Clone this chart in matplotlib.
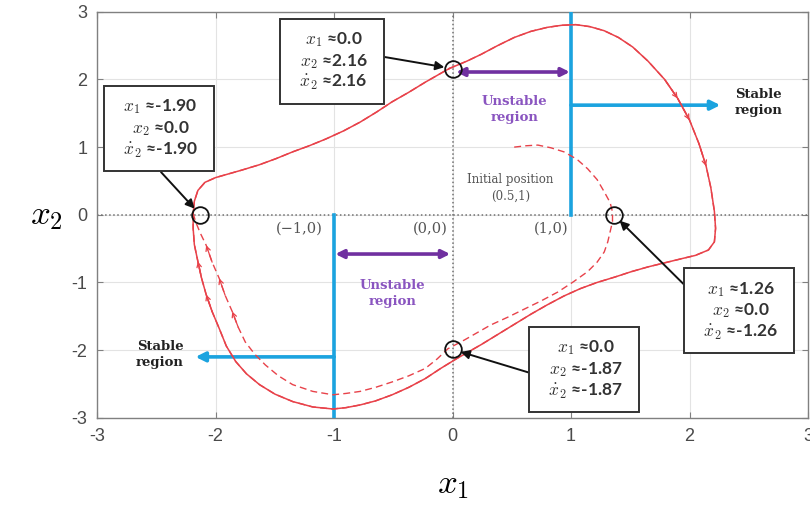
import numpy as np
import matplotlib.pyplot as plt

plt.rcParams['mathtext.fontset'] = 'cm'
plt.rcParams['axes.unicode_minus'] = False

# limit cycle (solid), traced clockwise from the top crossing of x1 = 0
cycle_x1 = [-0.03, 0.12, 0.24, 0.38, 0.52, 0.66, 0.80, 0.92, 1.04, 1.16,
            1.28, 1.40, 1.52, 1.65, 1.79, 1.90, 2.00, 2.08, 2.14, 2.18,
            2.21, 2.22, 2.21, 2.16, 2.05, 1.93, 1.79, 1.65, 1.51, 1.37,
            1.22, 1.08, 0.94, 0.80, 0.66, 0.52, 0.38, 0.24, 0.13, 0.04,
            -0.10, -0.23, -0.37, -0.51, -0.65, -0.78, -0.90, -1.01, -1.18, -1.35,
            -1.50, -1.63, -1.74, -1.83, -1.91, -1.97, -2.03, -2.08, -2.12, -2.15,
            -2.18, -2.19, -2.19, -2.18, -2.15, -2.09, -2.00, -1.92, -1.78, -1.63,
            -1.49, -1.35, -1.21, -1.07, -0.92, -0.78, -0.64, -0.51, -0.37, -0.23,
            -0.03]
cycle_x2 = [2.16, 2.27, 2.37, 2.50, 2.62, 2.71, 2.77, 2.80, 2.81, 2.78,
            2.72, 2.62, 2.48, 2.27, 2.00, 1.72, 1.40, 1.05, 0.72, 0.40,
            0.05, -0.20, -0.40, -0.52, -0.60, -0.65, -0.71, -0.77, -0.84, -0.92,
            -1.00, -1.09, -1.20, -1.33, -1.47, -1.62, -1.77, -1.92, -2.03, -2.12,
            -2.27, -2.42, -2.55, -2.66, -2.75, -2.81, -2.85, -2.87, -2.84, -2.76,
            -2.65, -2.51, -2.35, -2.17, -1.94, -1.68, -1.43, -1.18, -0.93, -0.69,
            -0.44, -0.20, 0.02, 0.20, 0.36, 0.48, 0.55, 0.59, 0.66, 0.74,
            0.83, 0.93, 1.02, 1.12, 1.24, 1.37, 1.52, 1.67, 1.81, 1.96,
            2.16]

# first lap of the trajectory from the initial position (0.5, 1)
traj_x1 = [0.52, 0.62, 0.72, 0.83, 0.94, 1.05, 1.14, 1.22, 1.28, 1.33,
           1.35, 1.35, 1.33, 1.31, 1.28, 1.22, 1.14, 1.02, 0.89, 0.75,
           0.61, 0.47, 0.32, 0.21, 0.10, -0.04, -0.13, -0.23, -0.37, -0.51,
           -0.65, -0.78, -0.90, -1.01, -1.18, -1.35, -1.47, -1.58, -1.67, -1.75,
           -1.81, -1.86, -1.92, -1.97, -2.03, -2.08, -2.13, -2.17]
traj_x2 = [1.00, 1.02, 1.03, 0.99, 0.93, 0.82, 0.68, 0.52, 0.34, 0.18,
           0.04, -0.10, -0.25, -0.40, -0.55, -0.70, -0.84, -0.99, -1.14, -1.27,
           -1.39, -1.51, -1.63, -1.74, -1.85, -1.98, -2.13, -2.27, -2.38, -2.47,
           -2.55, -2.61, -2.64, -2.66, -2.61, -2.51, -2.38, -2.22, -2.06, -1.88,
           -1.66, -1.43, -1.19, -0.94, -0.70, -0.45, -0.27, -0.10]

# marked crossing points and their readouts
mark_x1 = [0.0, -2.13, 1.36, 0.0]
mark_x2 = [2.16, 0.0, 0.0, -1.99]
read_x1 = ['0.0', '-1.90', '1.26', '0.0']
read_x2 = ['2.16', '0.0', '0.0', '-1.87']
read_dx2 = ['2.16', '-1.90', '-1.26', '-1.87']

red = '#e8424a'
blue = '#1ba3df'
purple = '#7030a0'
gray_txt = '#555555'

fig = plt.figure(figsize=(8.1, 5.12), dpi=100)
ax = fig.add_axes([0.12, 0.184, 0.8775, 0.793])

ax.set_xlim(-3, 3)
ax.set_ylim(-3, 3)
ax.set_xticks(np.arange(-3, 4))
ax.set_yticks(np.arange(-3, 4))
ax.grid(True, color='#e3e3e3', lw=0.8)
ax.set_axisbelow(True)
ax.tick_params(direction='in', length=4, width=0.8, color='#808080',
               top=True, right=True, labelsize=13, labelcolor='#4a4a4a', pad=7)
for lab in ax.get_xticklabels() + ax.get_yticklabels():
    lab.set_family('Liberation Sans')
for sp in ax.spines.values():
    sp.set_color('#808080')
    sp.set_linewidth(1.0)

ax.axhline(0, color='#707070', ls=':', lw=1.1, zorder=1)
ax.axvline(0, color='#707070', ls=':', lw=1.1, zorder=1)

# stability boundaries at x1 = -1 and x1 = 1
ax.plot([1, 1], [0, 3], color=blue, lw=2.6, zorder=3)
ax.plot([-1, -1], [0, -3], color=blue, lw=2.6, zorder=3)
ax.annotate('', xy=(2.26, 1.62), xytext=(1.0, 1.62),
            arrowprops=dict(arrowstyle='-|>', color=blue, lw=2.6, mutation_scale=14,
                            shrinkA=0, shrinkB=0), zorder=3)
ax.annotate('', xy=(-2.17, -2.10), xytext=(-1.0, -2.10),
            arrowprops=dict(arrowstyle='-|>', color=blue, lw=2.6, mutation_scale=14,
                            shrinkA=0, shrinkB=0), zorder=3)
ax.annotate('', xy=(0.99, 2.11), xytext=(0.03, 2.11),
            arrowprops=dict(arrowstyle='<|-|>', color=purple, lw=2.6, mutation_scale=12,
                            shrinkA=0, shrinkB=0), zorder=3)
ax.annotate('', xy=(-0.02, -0.58), xytext=(-0.99, -0.58),
            arrowprops=dict(arrowstyle='<|-|>', color=purple, lw=2.6, mutation_scale=12,
                            shrinkA=0, shrinkB=0), zorder=3)

serif = 'DejaVu Serif'
ax.text(2.58, 1.66, 'Stable\nregion', ha='center', va='center', fontsize=9.5,
        fontweight='bold', family=serif, color='#222222', linespacing=1.3)
ax.text(-2.47, -2.07, 'Stable\nregion', ha='center', va='center', fontsize=9.5,
        fontweight='bold', family=serif, color='#222222', linespacing=1.3)
ax.text(0.52, 1.55, 'Unstable\nregion', ha='center', va='center', fontsize=9.5,
        fontweight='bold', family=serif, color='#8a55c0', linespacing=1.3)
ax.text(-0.51, -1.16, 'Unstable\nregion', ha='center', va='center', fontsize=9.5,
        fontweight='bold', family=serif, color='#8a55c0', linespacing=1.3)
ax.text(-1.29, -0.2, '(\u22121,0)', ha='center', va='center', fontsize=10.5,
        family=serif, color=gray_txt)
ax.text(-0.19, -0.2, '(0,0)', ha='center', va='center', fontsize=10.5,
        family=serif, color=gray_txt)
ax.text(0.83, -0.2, '(1,0)', ha='center', va='center', fontsize=10.5,
        family=serif, color=gray_txt)
ax.text(0.49, 0.4, 'Initial position\n(0.5,1)', ha='center', va='center', fontsize=8.5,
        family=serif, color=gray_txt, linespacing=1.4)

# trajectory: limit cycle plus the converging path from (0.5, 1)
ax.plot(cycle_x1, cycle_x2, color=red, lw=1.1, zorder=4)
path_x1 = traj_x1 + cycle_x1[62:] + cycle_x1[1:63]
path_x2 = traj_x2 + cycle_x2[62:] + cycle_x2[1:63]
ax.plot(path_x1, path_x2, color=red, lw=1.0, ls=(0, (5, 3)), zorder=4)


def head(xs, ys, i):
    ax.annotate('', xy=(xs[i + 1], ys[i + 1]), xytext=(xs[i], ys[i]),
                arrowprops=dict(arrowstyle='->', color=red, lw=0.9, mutation_scale=8,
                                shrinkA=0, shrinkB=0), zorder=5)


for i in [14, 15, 17]:
    head(cycle_x1, cycle_x2, i)
for i in [40, 42, 44]:
    head(traj_x1, traj_x2, i)
for i in [56, 58]:
    head(cycle_x1, cycle_x2, i)

ax.plot(mark_x1, mark_x2, 'o', mfc='none', mec='#111111', ms=12, mew=1.3, zorder=6)

# readout boxes: text position, arrow start on the box edge
box_pos = [(-1.02, 2.27), (-2.48, 1.27), (2.42, -1.42), (1.11, -2.29)]
box_rel = [(1.0, 0.6), (0.4, 0.0), (0.0, 0.74), (0.0, 0.4)]
for k in range(4):
    txt = ('  $x_1$ \u2248' + read_x1[k] + '  \n  $x_2$ \u2248' + read_x2[k]
           + '  \n  $\\dot{x}_2$ \u2248' + read_dx2[k] + '  ')
    ax.annotate(txt, xy=(mark_x1[k], mark_x2[k]), xytext=box_pos[k],
                ha='center', va='center', fontsize=12.5, fontweight='bold',
                family=['Lato', 'DejaVu Sans'], color='#333333', linespacing=1.2,
                bbox=dict(boxstyle='square,pad=0.65', fc='white', ec='#333333', lw=1.4),
                arrowprops=dict(arrowstyle='-|>', color='#111111', lw=1.4,
                                mutation_scale=13, relpos=box_rel[k],
                                shrinkA=0, shrinkB=6), zorder=7)

ax.set_xlabel('$x_1$', fontsize=25, labelpad=16)
ax.set_ylabel('$x_2$', fontsize=25, rotation=0, labelpad=18, va='center')

fig.savefig('out.png', dpi=100)
